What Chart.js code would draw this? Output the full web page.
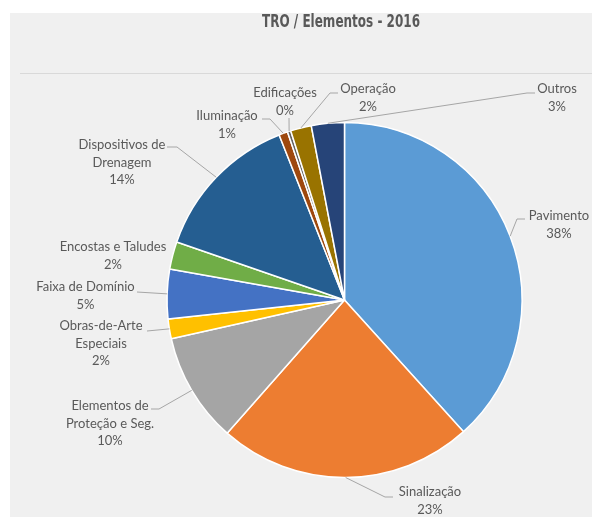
<!DOCTYPE html>
<html>
<head>
<meta charset="utf-8">
<script src="https://cdn.jsdelivr.net/npm/chart.js@4.4.1/dist/chart.umd.min.js"></script>
<style>
  html, body { margin: 0; padding: 0; background: #ffffff; }
  #c { display: block; }
</style>
</head>
<body>
<canvas id="c" width="592" height="517"></canvas>
<script>
// ---- data ----
const categories = [
  "Pavimento", "Sinalização", "Elementos de Proteção e Seg.", "Obras-de-Arte Especiais",
  "Faixa de Domínio", "Encostas e Taludes", "Dispositivos de Drenagem", "Iluminação",
  "Edificações", "Operação", "Outros"
];
const values = [38.3, 23.2, 10.0, 1.8, 4.5, 2.5, 13.7, 0.8, 0.3, 1.9, 3.0];
const pctLabels = ["38%", "23%", "10%", "2%", "5%", "2%", "14%", "1%", "0%", "2%", "3%"];
const labelLines = [
  ["Pavimento"], ["Sinalização"], ["Elementos de", "Proteção e Seg."], ["Obras-de-Arte", "Especiais"],
  ["Faixa de Domínio"], ["Encostas e Taludes"], ["Dispositivos de", "Drenagem"], ["Iluminação"],
  ["Edificações"], ["Operação"], ["Outros"]
];
const chartTitle = "TRO / Elementos - 2016";

// ---- styles / layout ----
const colors = ["#5B9BD5", "#ED7D31", "#A5A5A5", "#FFC000", "#4472C4", "#70AD47",
                "#255E91", "#9E480E", "#636363", "#997300", "#264478"];
// label block centre (dx,dy of first line) and leader elbow/end points, relative to pie centre
const labelLayout = [
  { t: [214.5, -84],  leader: [[172.5, -81], [180.5, -81]] },
  { t: [85.5, 192],   leader: [[40.5, 197], [48.5, 197]] },
  { t: [-234.5, 106], leader: [[-185.5, 109], [-193.5, 109]] },
  { t: [-243.5, 26],  leader: [[-197.5, 31]] },
  { t: [-259, -13],   leader: [[-207.5, -8]] },
  { t: [-231.5, -53], leader: [] },
  { t: [-222.5, -155], leader: [[-167.5, -153], [-177.5, -153]] },
  { t: [-117.5, -184], leader: [[-74.5, -181], [-82.5, -181]] },
  { t: [-59.5, -207], leader: [[-55.5, -182]] },
  { t: [23.5, -211],  leader: [[-14.5, -207], [-6.5, -207]] },
  { t: [212.5, -211], leader: [[182.5, -207], [190.5, -207]] }
];
const textColor = "#595959";
const labelFont = "13px Lato, 'Open Sans', sans-serif";
const lineH = 17.5;
const titleFont = "bold 17px 'Liberation Sans Narrow', 'DejaVu Sans Condensed', 'DejaVu Sans', sans-serif";
const titlePos = { x: 341, y: 23, width: 158 };

const backgroundPlugin = {
  id: "bgPanel",
  beforeDraw(chart) {
    const ctx = chart.ctx;
    ctx.save();
    ctx.fillStyle = "#ffffff";
    ctx.fillRect(0, 0, chart.width, chart.height);
    ctx.fillStyle = "#f0f0f0";
    ctx.fillRect(10, 13, chart.width - 10, chart.height - 13);
    ctx.strokeStyle = "#d9d9d9";
    ctx.lineWidth = 1;
    ctx.beginPath();
    ctx.moveTo(20, 73.5);
    ctx.lineTo(chart.width, 73.5);
    ctx.stroke();
    // title (condensed to match the narrow face of the original)
    ctx.font = titleFont;
    ctx.fillStyle = textColor;
    ctx.textAlign = "center";
    ctx.textBaseline = "middle";
    const w = ctx.measureText(chartTitle).width;
    const sx = Math.min(1, titlePos.width / w);
    ctx.translate(titlePos.x, titlePos.y);
    ctx.scale(sx, 1);
    ctx.fillText(chartTitle, 0, 0);
    ctx.restore();
  }
};

const labelPlugin = {
  id: "pieLabels",
  afterDraw(chart) {
    const ctx = chart.ctx;
    const meta = chart.getDatasetMeta(0);
    ctx.save();
    meta.data.forEach((arc, i) => {
      const cx = arc.x, cy = arc.y, r = arc.outerRadius;
      const mid = (arc.startAngle + arc.endAngle) / 2;
      const lay = labelLayout[i];
      if (lay.leader.length) {
        ctx.strokeStyle = "#a6a6a6";
        ctx.lineWidth = 1;
        ctx.beginPath();
        ctx.moveTo(cx + Math.cos(mid) * r, cy + Math.sin(mid) * r);
        lay.leader.forEach(p => ctx.lineTo(cx + p[0], cy + p[1]));
        ctx.stroke();
      }
      const lines = labelLines[i].concat([pctLabels[i]]);
      ctx.fillStyle = textColor;
      ctx.font = labelFont;
      ctx.textAlign = "center";
      ctx.textBaseline = "middle";
      lines.forEach((ln, k) => {
        ctx.fillText(ln, cx + lay.t[0], cy + lay.t[1] + k * lineH);
      });
    });
    ctx.restore();
  }
};

new Chart(document.getElementById("c"), {
  type: "pie",
  data: {
    labels: categories,
    datasets: [{
      data: values,
      backgroundColor: colors,
      borderColor: "#ffffff",
      borderWidth: 1.5,
      radius: 177.5
    }]
  },
  options: {
    responsive: false,
    animation: false,
    layout: { padding: { left: 97, right: 0, top: 83, bottom: 0 } },
    plugins: {
      legend: { display: false },
      tooltip: { enabled: false },
      title: { display: false }
    }
  },
  plugins: [backgroundPlugin, labelPlugin]
});
</script>
</body>
</html>
